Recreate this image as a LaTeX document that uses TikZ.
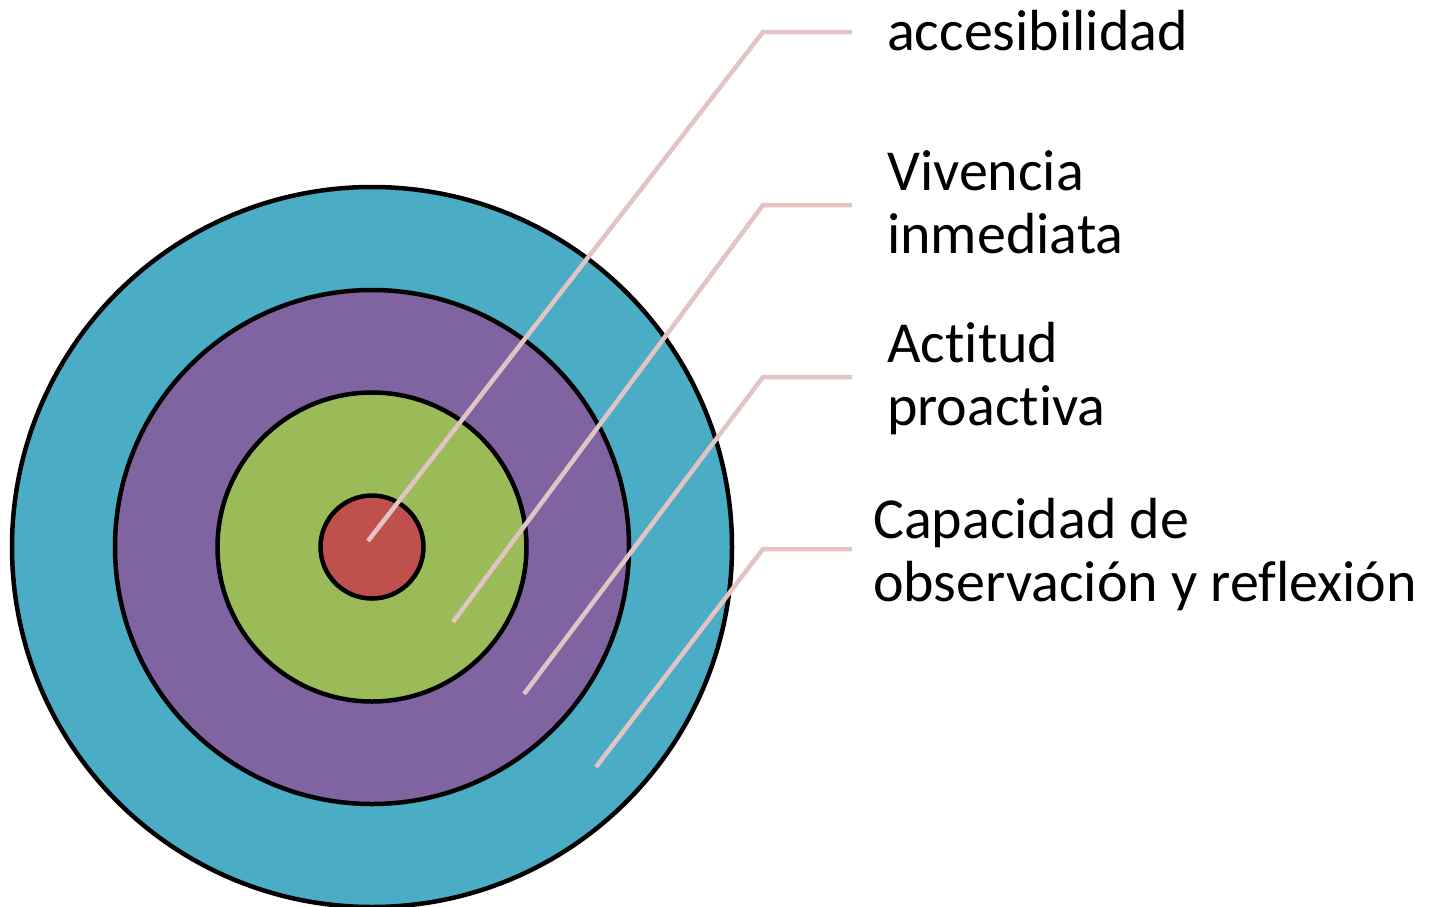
\documentclass[tikz,border=0pt]{standalone}
\usepackage{fontspec}
\setmainfont{Carlito}[RawFeature={-liga}]
\definecolor{ringA}{HTML}{4BACC6}
\definecolor{ringB}{HTML}{8064A2}
\definecolor{ringC}{HTML}{9BBB59}
\definecolor{ringD}{HTML}{C0504D}
\definecolor{leader}{HTML}{E2C4C4}
\begin{document}
\begin{tikzpicture}[x=1pt,y=-1pt,
  ring/.style={circle,draw=black,line width=4.5pt,inner sep=0pt,minimum size=#1},
  leadline/.style={draw=leader,line width=4.5pt},
  lbl/.style={anchor=base west,inner sep=0pt,align=left,font=\fontsize{58}{63}\selectfont}]
\useasboundingbox (0,0) rectangle (1433,906);
\begin{scope}
\clip (0,0) rectangle (1433,906);
\node[ring=720pt,fill=ringA] (r1) at (372,547) {};
\node[ring=514pt,fill=ringB] (r2) at (372,547) {};
\node[ring=309pt,fill=ringC] (r3) at (372,547) {};
\node[ring=103pt,fill=ringD] (r4) at (372,547) {};
\end{scope}
\coordinate (s1) at (368,541);
\coordinate (e1) at (763,32);
\coordinate (t1) at (852,32);
\coordinate (s2) at (453,622);
\coordinate (e2) at (763,205);
\coordinate (t2) at (852,205);
\coordinate (s3) at (524,694);
\coordinate (e3) at (763,377);
\coordinate (t3) at (852,377);
\coordinate (s4) at (596,767);
\coordinate (e4) at (763,549);
\coordinate (t4) at (852,549);
\draw[leadline] (s1) -- (e1) -- (t1);
\draw[leadline] (s2) -- (e2) -- (t2);
\draw[leadline] (s3) -- (e3) -- (t3);
\draw[leadline] (s4) -- (e4) -- (t4);
\node[lbl] (l1) at (887,50) {accesibilidad};
\node[lbl] (l2) at (887,253) {Vivencia\\inmediata};
\node[lbl] (l3) at (887,425) {Actitud\\proactiva};
\node[lbl] (l4) at (873,601) {Capacidad de\\observación y reflexión};
\end{tikzpicture}
\end{document}
